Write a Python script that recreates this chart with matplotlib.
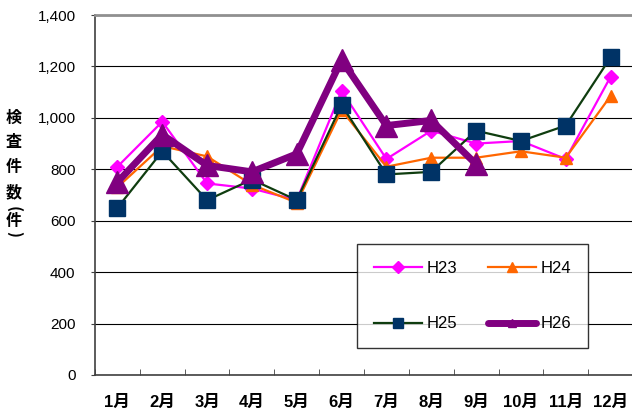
import numpy as np
import matplotlib.pyplot as plt
from matplotlib.lines import Line2D

plt.rcParams['font.family'] = ['Liberation Sans', 'Noto Sans CJK JP', 'DejaVu Sans']

months = ['1月', '2月', '3月', '4月', '5月', '6月', '7月', '8月', '9月', '10月', '11月', '12月']
h23 = [810, 985, 745, 725, 680, 1105, 840, 950, 900, 910, 840, 1160]
h24 = [730, 890, 850, 740, 670, 1030, 810, 845, 845, 870, 845, 1085]
h25 = [650, 870, 680, 760, 680, 1050, 780, 790, 950, 910, 970, 1235]
h26 = [750, 935, 815, 790, 860, 1225, 970, 990, 820]
yticks = [0, 200, 400, 600, 800, 1000, 1200, 1400]
ylabel_chars = ['検', '査', '件', '数', '(', '件', ')']

fig = plt.figure(figsize=(6.32, 4.12), dpi=100)
ax = fig.add_axes([95/632, 37/412, 538/632, 360/412])

x = np.arange(len(months))
ax.plot(x, h23, color='#ff00ff', lw=1.6, marker='D', ms=7.5, mec='#ff00ff', label='H23', zorder=3)
ax.plot(x, h24, color='#ff6600', lw=1.6, marker='^', ms=8.5, mec='#ff6600', label='H24', zorder=4)
ax.plot(x, h25, color='#0f3d0f', lw=1.6, marker='s', ms=12, mfc='#003366', mec='#003366', label='H25', zorder=5)
ax.plot(x[:len(h26)], h26, color='#800080', lw=5, marker='^', ms=16, mec='#800080', label='H26', zorder=6)

ax.set_xlim(-0.5, len(months) - 0.5)
ax.set_ylim(0, 1400)
ax.set_yticks(yticks)
ax.set_yticklabels([f'{v:,}' for v in yticks], fontsize=11)
ax.yaxis.grid(True, color='black', lw=0.8)
ax.set_axisbelow(True)

ax.set_xticks(x)
ax.set_xticklabels(months, fontsize=12, fontweight='bold')
ax.set_xticks(np.arange(len(months) + 1) - 0.5, minor=True)
ax.tick_params(axis='x', which='major', length=0, pad=14)
ax.tick_params(axis='x', which='minor', direction='in', length=4, color='#404040')
ax.tick_params(axis='y', direction='out', length=3, color='#404040', pad=11)

for s in ['left', 'bottom']:
    ax.spines[s].set_color('#404040')
    ax.spines[s].set_linewidth(1.2)
ax.spines['top'].set_color('#909090')
ax.spines['top'].set_linewidth(2)
ax.spines['right'].set_color('#909090')

# legend, 2 columns (column-major order: H23, H25 | H24, H26)
handles = [
    Line2D([], [], color='#ff00ff', lw=1.6, marker='D', ms=6),
    Line2D([], [], color='#0f3d0f', lw=1.6, marker='s', ms=7, mfc='#003366', mec='#003366'),
    Line2D([], [], color='#ff6600', lw=1.6, marker='^', ms=7),
    Line2D([], [], color='#800080', lw=5, marker='^', ms=6, solid_capstyle='round'),
]
leg = ax.legend(handles, ['H23', 'H25', 'H24', 'H26'], ncol=2, fontsize=12,
                loc='upper left', bbox_to_anchor=(0.487, 0.364),
                frameon=True, fancybox=False, edgecolor='black', borderpad=1.0,
                borderaxespad=0, handlelength=2.9, handletextpad=0.3,
                labelspacing=2.45, columnspacing=1.8)
leg.get_frame().set_linewidth(1.0)
leg.set_zorder(10)

# vertical y label, one character per line
ys = [118, 142, 167, 192, 209, 221, 234]
for ch, yy in zip(ylabel_chars, ys):
    rot = -90 if ch in '()' else 0
    fig.text(14/632, 1 - yy/412, ch, ha='center', va='center', fontsize=11.5,
             rotation=rot, fontweight='bold', family=['Noto Sans CJK JP'])

fig.savefig('out.png', dpi=100)
